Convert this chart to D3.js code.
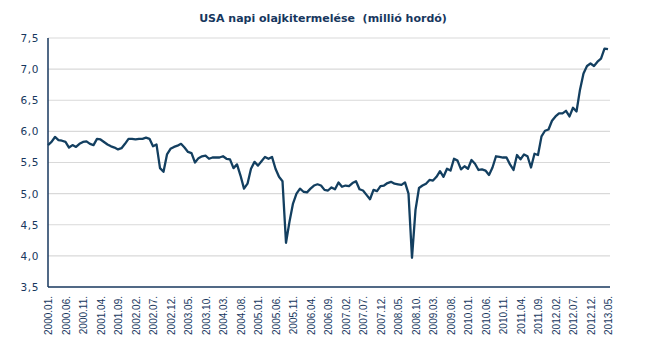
<!DOCTYPE html>
<html>
<head>
<meta charset="utf-8">
<script src="https://cdn.jsdelivr.net/npm/d3@7"></script>
<style>
  html, body { margin: 0; padding: 0; background: #ffffff; }
  svg { display: block; }
</style>
</head>
<body>
<svg id="chart" width="645" height="356"></svg>
<script>
const title = "USA napi olajkitermelése  (millió hordó)";
const startYear = 2000, startMonth = 1, monthCount = 161;
const values = [
  5.78, 5.83, 5.91, 5.86, 5.85, 5.83, 5.74, 5.78, 5.75, 5.80,
  5.83, 5.84, 5.80, 5.78, 5.88, 5.87, 5.83, 5.79, 5.76, 5.74,
  5.71, 5.73, 5.80, 5.88, 5.88, 5.87, 5.88, 5.88, 5.90, 5.88,
  5.76, 5.79, 5.41, 5.35, 5.63, 5.72, 5.75, 5.77, 5.80, 5.74,
  5.67, 5.65, 5.50, 5.57, 5.60, 5.61, 5.56, 5.58, 5.58, 5.58,
  5.60, 5.56, 5.55, 5.41, 5.47, 5.29, 5.08, 5.16, 5.40, 5.51,
  5.45, 5.52, 5.59, 5.56, 5.59, 5.40, 5.27, 5.20, 4.21, 4.55,
  4.84, 5.00, 5.08, 5.03, 5.02, 5.08, 5.13, 5.15, 5.13, 5.06,
  5.05, 5.10, 5.07, 5.18, 5.11, 5.13, 5.12, 5.17, 5.20, 5.07,
  5.05, 4.98, 4.91, 5.06, 5.04, 5.12, 5.13, 5.17, 5.19, 5.16,
  5.15, 5.14, 5.18, 5.00, 3.97, 4.74, 5.09, 5.13, 5.16, 5.22,
  5.21, 5.27, 5.36, 5.27, 5.40, 5.37, 5.56, 5.53, 5.39, 5.44,
  5.40, 5.54, 5.48, 5.38, 5.39, 5.37, 5.30, 5.42, 5.60, 5.59,
  5.58, 5.58, 5.47, 5.38, 5.62, 5.55, 5.63, 5.60, 5.42, 5.64,
  5.62, 5.92, 6.01, 6.03, 6.17, 6.24, 6.29, 6.29, 6.33, 6.24,
  6.38, 6.32, 6.67, 6.93, 7.05, 7.09, 7.05, 7.12, 7.17, 7.33,
  7.32
];
const yTicks = [3.5, 4.0, 4.5, 5.0, 5.5, 6.0, 6.5, 7.0, 7.5];
const xTickEvery = 5;

const categories = [];
for (let k = 0; k < monthCount; k++) {
  const m = (startMonth - 1 + k);
  const yy = startYear + Math.floor(m / 12);
  const mm = (m % 12) + 1;
  categories.push(yy + "." + (mm < 10 ? "0" + mm : mm) + ".");
}
const xTickLabels = categories.filter((d, k) => k % xTickEvery === 0);

const navy = "#17375e";
const lineColor = "#133f60";
const svg = d3.select("#chart");

const x = d3.scalePoint().domain(categories).range([48, 608]);
const y = d3.scaleLinear().domain([3.5, 7.5]).range([287, 38]);

// title
svg.append("text")
  .attr("x", 323).attr("y", 22)
  .attr("text-anchor", "middle")
  .attr("font-family", "DejaVu Sans, sans-serif")
  .attr("font-weight", "bold")
  .attr("font-size", "11px")
  .attr("fill", navy)
  .style("white-space", "pre")
  .text(title);

// gridlines
svg.append("g").selectAll("line")
  .data(yTicks.filter(t => t > 3.5))
  .join("line")
  .attr("x1", 48).attr("x2", 610)
  .attr("y1", d => y(d)).attr("y2", d => y(d))
  .attr("stroke", "#d9d9d9").attr("stroke-width", 1.2);

// y axis labels
const yAxis = d3.axisLeft(y).tickValues(yTicks).tickSize(0).tickPadding(9)
  .tickFormat(d => d3.format(".1f")(d).replace(".", ","));
const gy = svg.append("g").attr("transform", "translate(48,0)").call(yAxis);
gy.select(".domain").remove();
gy.selectAll("text")
  .attr("font-family", "DejaVu Sans, sans-serif")
  .attr("font-size", "10.5px")
  .attr("letter-spacing", "0.6px")
  .attr("fill", navy);

// x axis labels
const xAxis = d3.axisBottom(x).tickValues(xTickLabels).tickSize(0).tickPadding(0);
const gx = svg.append("g").attr("transform", "translate(0,287)").call(xAxis);
gx.select(".domain").remove();
gx.selectAll("text")
  .attr("font-family", "Liberation Sans, Arial, sans-serif")
  .attr("font-size", "10px")
  .attr("fill", navy)
  .attr("text-anchor", "end")
  .attr("transform", "rotate(-90)")
  .attr("x", -9).attr("y", 0).attr("dy", "0.35em");

// axis lines
svg.append("line").attr("x1", 48).attr("x2", 48).attr("y1", 38).attr("y2", 287)
  .attr("stroke", navy).attr("stroke-width", 1.5);
svg.append("line").attr("x1", 48).attr("x2", 610).attr("y1", 287).attr("y2", 287)
  .attr("stroke", navy).attr("stroke-width", 1.5);

// line
const line = d3.line()
  .x((d, k) => x(categories[k]))
  .y(d => y(d));
svg.append("path")
  .datum(values)
  .attr("d", line)
  .attr("fill", "none")
  .attr("stroke", lineColor)
  .attr("stroke-width", 2.3)
  .attr("stroke-linejoin", "round");
</script>
</body>
</html>
